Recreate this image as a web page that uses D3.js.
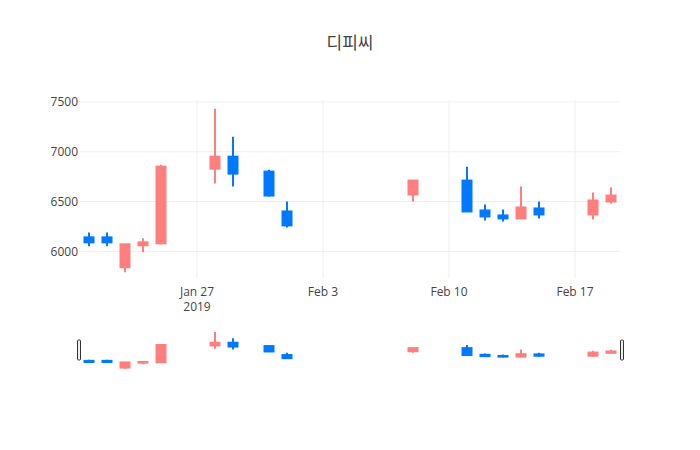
<!DOCTYPE html>
<html>
<head>
<meta charset="utf-8">
<script src="https://cdn.jsdelivr.net/npm/d3@7"></script>
<style>
  body { margin: 0; background: #fff; }
  text { font-family: "Open Sans", "Noto Sans CJK KR", sans-serif; }
</style>
</head>
<body>
<div id="chart"></div>
<script>
// daily prices (KRW)
const dates = ["2019-01-21", "2019-01-22", "2019-01-23", "2019-01-24", "2019-01-25",
    "2019-01-28", "2019-01-29", "2019-01-31", "2019-02-01", "2019-02-08",
    "2019-02-11", "2019-02-12", "2019-02-13", "2019-02-14", "2019-02-15",
    "2019-02-18", "2019-02-19"];
const opens  = [6140, 6140, 5840, 6060, 6080, 6830, 6950, 6800, 6400, 6570, 6710, 6410, 6360, 6330, 6430, 6370, 6500];
const highs  = [6190, 6190, 6070, 6130, 6870, 7430, 7150, 6820, 6500, 6710, 6850, 6470, 6420, 6650, 6500, 6590, 6640];
const lows   = [6050, 6050, 5790, 5990, 6070, 6680, 6650, 6550, 6240, 6500, 6400, 6310, 6300, 6330, 6330, 6320, 6480];
const closes = [6090, 6090, 6070, 6090, 6850, 6950, 6780, 6560, 6260, 6710, 6400, 6350, 6330, 6440, 6370, 6510, 6560];

const yTicks = [6000, 6500, 7000, 7500];
const xTicks = ["2019-01-27", "2019-02-03", "2019-02-10", "2019-02-17"];

const upColor = "#ff7f7f", downColor = "#0078ff";

const width = 700, height = 450;
const plotLeft = 80, plotRight = 620, plotTop = 100, plotBottom = 278;
const sliderTop = 330, sliderBottom = 370;

const parse = d3.utcParse("%Y-%m-%d");
const candles = dates.map((d, i) => ({
    date: parse(d), open: opens[i], high: highs[i], low: lows[i], close: closes[i]
}));

const x = d3.scaleUtc()
    .domain([new Date(Date.UTC(2019, 0, 20, 12)), new Date(Date.UTC(2019, 1, 19, 12))])
    .range([plotLeft, plotRight]);
const y = d3.scaleLinear().domain([5732, 7519]).range([plotBottom, plotTop]);
const ySlider = d3.scaleLinear().domain([5732, 7519]).range([sliderBottom, sliderTop]);

const dayPx = x(parse("2019-01-22")) - x(parse("2019-01-21"));
const bodyW = dayPx * 0.5;

const svg = d3.select("#chart").append("svg")
    .attr("width", width)
    .attr("height", height);

svg.append("rect").attr("width", width).attr("height", height).attr("fill", "#fff");

// grid
svg.append("g").selectAll("line")
    .data(yTicks)
    .join("line")
    .attr("x1", plotLeft).attr("x2", plotRight)
    .attr("y1", d => y(d)).attr("y2", d => y(d))
    .attr("stroke", "#eee");

svg.append("g").selectAll("line")
    .data(xTicks)
    .join("line")
    .attr("x1", d => x(parse(d))).attr("x2", d => x(parse(d)))
    .attr("y1", plotTop).attr("y2", plotBottom)
    .attr("stroke", "#eee");

// y labels
svg.append("g").selectAll("text")
    .data(yTicks)
    .join("text")
    .attr("x", plotLeft - 2)
    .attr("y", d => y(d))
    .attr("dy", "0.35em")
    .attr("text-anchor", "end")
    .attr("font-size", 12)
    .attr("fill", "#444")
    .text(d => d);

// x labels
const fmt = d3.utcFormat("%b %-d");
const xl = svg.append("g").selectAll("text")
    .data(xTicks)
    .join("text")
    .attr("x", d => x(parse(d)))
    .attr("y", 295.5)
    .attr("text-anchor", "middle")
    .attr("font-size", 12)
    .attr("fill", "#444");
xl.append("tspan").text(d => fmt(parse(d)));
xl.filter((d, i) => i === 0).append("tspan")
    .attr("x", d => x(parse(d)))
    .attr("dy", 15)
    .text(d => parse(d).getUTCFullYear());

function drawCandles(g, ys, lw) {
    const c = g.selectAll("g")
        .data(candles)
        .join("g")
        .attr("stroke", d => d.close >= d.open ? upColor : downColor)
        .attr("fill", d => d.close >= d.open ? upColor : downColor)
        .attr("stroke-width", lw);
    c.append("line")
        .attr("x1", d => x(d.date)).attr("x2", d => x(d.date))
        .attr("y1", d => ys(d.high)).attr("y2", d => ys(d.low));
    c.append("rect")
        .attr("x", d => x(d.date) - bodyW / 2)
        .attr("width", bodyW)
        .attr("y", d => ys(Math.max(d.open, d.close)))
        .attr("height", d => Math.max(0.5, Math.abs(ys(d.open) - ys(d.close))));
}

drawCandles(svg.append("g"), y, 2);

// range slider
drawCandles(svg.append("g"), ySlider, 2);

const hY = sliderTop + (sliderBottom - sliderTop) / 4;
const hH = (sliderBottom - sliderTop) / 2;
svg.append("g").selectAll("rect")
    .data([plotLeft - 2.5, plotRight + 0.5])
    .join("rect")
    .attr("x", d => d)
    .attr("y", hY)
    .attr("width", 3)
    .attr("height", hH)
    .attr("rx", 1)
    .attr("fill", "#eee")
    .attr("stroke", "#333")
    .attr("stroke-width", 1);

// title
svg.append("text")
    .attr("x", 350)
    .attr("y", 49)
    .attr("text-anchor", "middle")
    .attr("font-size", 17)
    .attr("fill", "#444")
    .text("디피씨");
</script>
</body>
</html>
